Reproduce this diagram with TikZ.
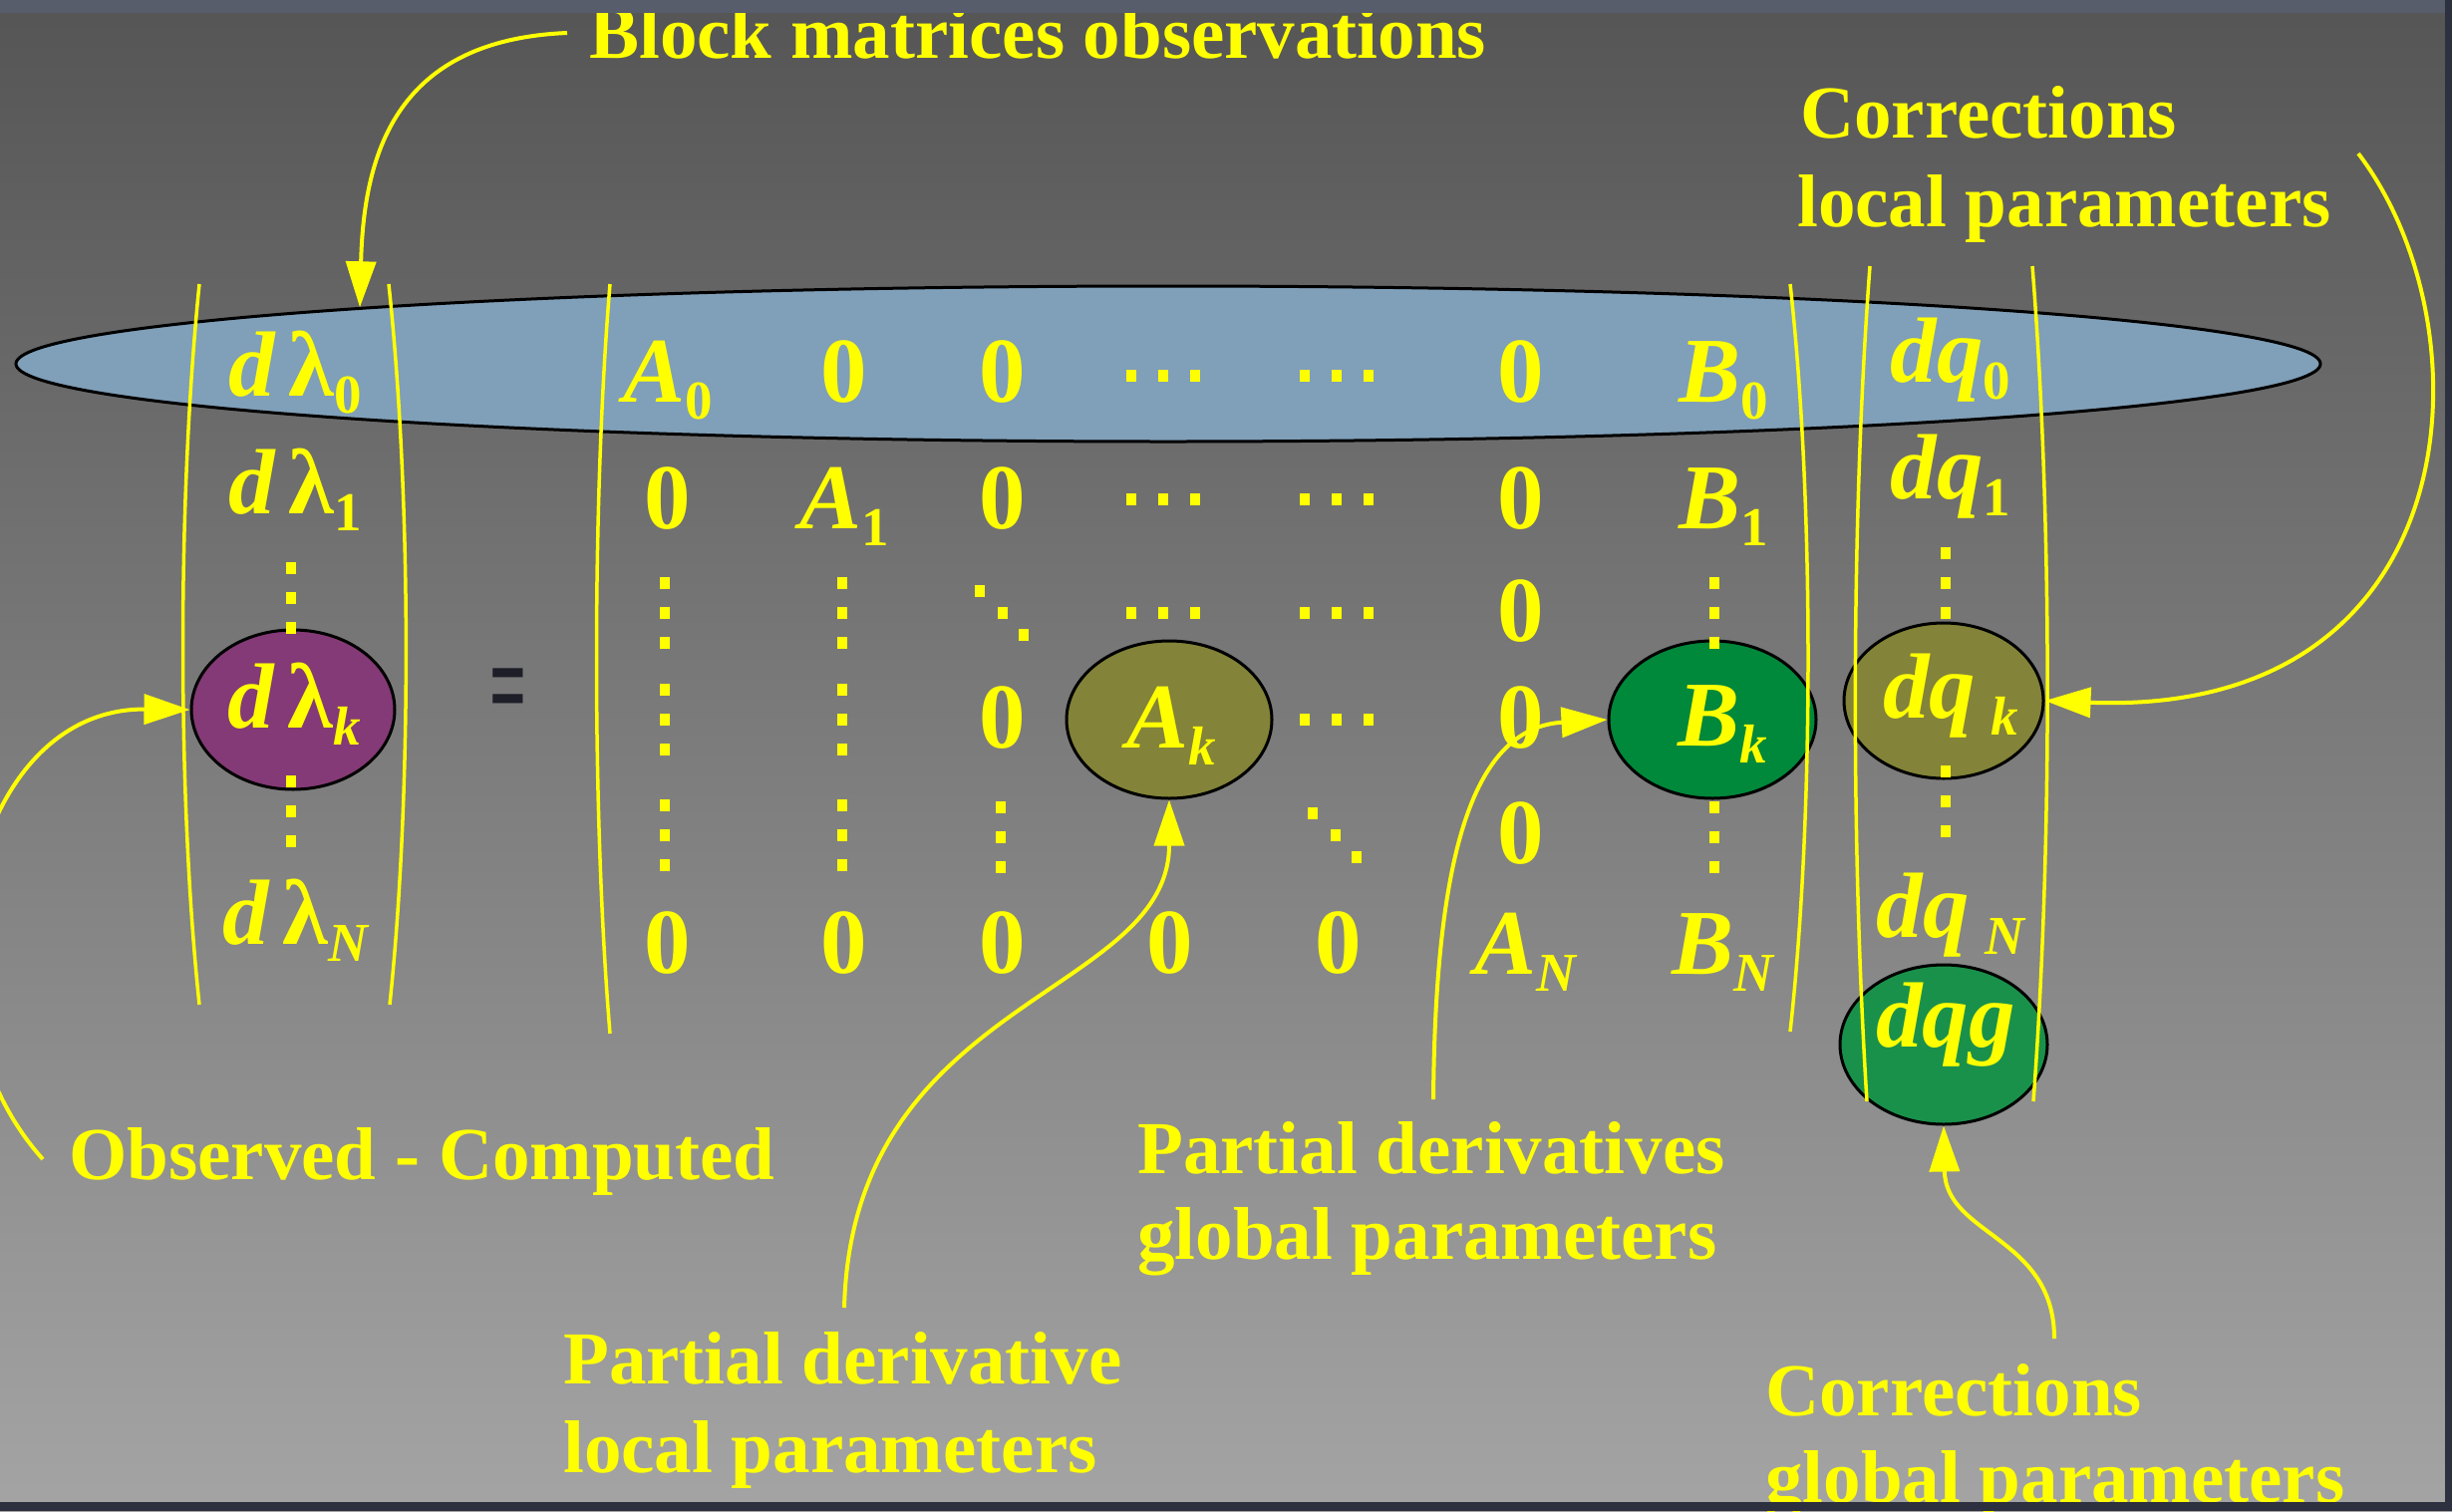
\documentclass[tikz,border=0pt]{standalone}
\usepackage{fontspec}
\setmainfont{Liberation Serif}
\usetikzlibrary{arrows.meta,shapes.geometric}
\definecolor{ylw}{RGB}{255,255,0}
\definecolor{ellblue}{RGB}{128,159,184}
\definecolor{purp}{RGB}{132,58,118}
\definecolor{olive}{RGB}{131,131,57}
\definecolor{grnA}{RGB}{0,136,59}
\definecolor{grnB}{RGB}{26,145,75}
\definecolor{bgtop}{RGB}{85,85,85}
\definecolor{bgbot}{RGB}{164,164,164}
\definecolor{stripA}{RGB}{88,93,108}
\definecolor{stripB}{RGB}{45,48,62}
\definecolor{eqcol}{RGB}{30,30,40}
\newcommand\mi[1]{{\itshape #1}}
\newcommand\sbs[1]{\raisebox{-17pt}{\fontsize{55}{55}\selectfont #1}}
\newcommand\vdts[2]{\foreach \dd in {-30,0,30} \fill[ylw] ({#1-5},{#2+\dd-6}) rectangle +(10,12);}
\newcommand\hdts[2]{\foreach \dd in {-32,0,32} \fill[ylw] ({#1+\dd-5},{#2-6}) rectangle +(10,12);}
\newcommand\ddts[2]{\foreach \ddx/\ddy in {-23/-22,0/0,21/22} \fill[ylw] ({#1+\ddx-5},{#2+\ddy-6}) rectangle +(10,12);}
\tikzset{
  lbl/.style={text=ylw, font=\bfseries\fontsize{75}{88}\selectfont, inner sep=0pt, anchor=base west},
  ent/.style={text=ylw, font=\bfseries\fontsize{93}{93}\selectfont, inner sep=0pt, anchor=base},
  paren/.style={draw=ylw, line width=3.5pt},
  arr/.style={draw=ylw, line width=4pt, -{Triangle[length=46pt,width=30pt]}},
  blob/.style={ellipse, draw=black, line width=3pt, inner sep=0pt},
}
\begin{document}
\begin{tikzpicture}[x=1pt,y=-1pt]
\useasboundingbox (0,0) rectangle (2460,1516);
\clip (0,0) rectangle (2460,1516);
% background
\shade[top color=bgtop, bottom color=bgbot] (0,0) rectangle (2460,1516);
% ellipses
\node[blob, fill=ellblue, minimum width=2312pt, minimum height=156pt] (big) at (1172,365) {};
\node[blob, fill=purp, minimum width=204pt, minimum height=160pt] (elk) at (294,712) {};
\node[blob, fill=olive, minimum width=206pt, minimum height=158pt] (eAk) at (1173,722) {};
\node[blob, fill=grnA, minimum width=208pt, minimum height=158pt] (eBk) at (1718,722) {};
\node[blob, fill=olive, minimum width=200pt, minimum height=156pt] (eqk) at (1950,703) {};
\node[blob, fill=grnB, minimum width=208pt, minimum height=160pt] (eqg) at (1950,1048) {};
% parentheses
\draw[paren] (200,285) .. controls (178,500) and (178,800) .. (200,1008);
\draw[paren] (390,285) .. controls (413,500) and (413,800) .. (391,1008);
\draw[paren] (612,285) .. controls (594,500) and (594,820) .. (612,1037);
\draw[paren] (1796,285) .. controls (1820,500) and (1820,820) .. (1796,1035);
\draw[paren] (1876,267) .. controls (1857,520) and (1857,850) .. (1873,1105);
\draw[paren] (2039,267) .. controls (2059,520) and (2059,850) .. (2040,1105);
% left vector
\node[ent] (l0) at (296,397) {\mi{d}\hspace{14pt}λ\sbs{0}};
\node[ent] (l1) at (296,515) {\mi{d}\hspace{14pt}λ\sbs{1}};
\node[ent] (lk) at (295,730) {\mi{d}\hspace{14pt}λ\sbs{\mi{k}}};
\node[ent] (lN) at (296,947) {\mi{d}\hspace{14pt}λ\sbs{\mi{N}}};
\vdts{292}{600}
\vdts{292}{814}
% equals
\node[text=eqcol, inner sep=0pt] (eq) at (510,701) {\scalebox{0.5}[1]{\bfseries\fontsize{130}{130}\selectfont =}};
% matrix
\node[ent] (a00) at (670,403) {\mi{A}\sbs{0}};
\node[ent] (a01) at (847,403) {0};
\node[ent] (a02) at (1006,403) {0};
\node[ent] (a05) at (1526,403) {0};
\node[ent] (a06) at (1729,403) {\mi{B}\sbs{0}};
\node[ent] (a10) at (670,530) {0};
\node[ent] (a11) at (847,530) {\mi{A}\sbs{1}};
\node[ent] (a12) at (1006,530) {0};
\node[ent] (a15) at (1526,530) {0};
\node[ent] (a16) at (1729,530) {\mi{B}\sbs{1}};
\node[ent] (a25) at (1526,643) {0};
\node[ent] (a32) at (1006,750) {0};
\node[ent] (a33) at (1175,750) {\mi{A}\sbs{\mi{k}}};
\node[ent] (a35) at (1526,750) {0};
\node[ent] (a36) at (1728,748) {\mi{B}\sbs{\mi{k}}};
\node[ent] (a45) at (1526,866) {0};
\node[ent] (a50) at (670,976) {0};
\node[ent] (a51) at (847,976) {0};
\node[ent] (a52) at (1006,976) {0};
\node[ent] (a53) at (1174,976) {0};
\node[ent] (a54) at (1343,976) {0};
\node[ent] (a55) at (1530,977) {\mi{A}\sbs{\mi{N}}};
\node[ent] (a56) at (1728,977) {\mi{B}\sbs{\mi{N}}};
\hdts{1167}{377} \hdts{1341}{377}
\hdts{1167}{501} \hdts{1341}{501}
\vdts{667}{615} \vdts{845}{615} \ddts{1006}{615} \hdts{1167}{615} \hdts{1341}{615} \vdts{1720}{615}
\vdts{667}{722} \vdts{845}{722} \hdts{1341}{722}
\vdts{667}{838} \vdts{845}{838} \vdts{1004}{840} \ddts{1340}{838} \vdts{1720}{840}
% dq vector
\node[ent] (q0) at (1957,383) {\mi{dq}\sbs{0}};
\node[ent] (q1) at (1957,500) {\mi{dq}\sbs{1}};
\node[ent] (qk) at (1957,720) {\mi{dq}\,\sbs{\mi{k}}};
\node[ent] (qN) at (1957,940) {\mi{dq}\,\sbs{\mi{N}}};
\node[ent] (qg) at (1952,1050) {\mi{dqg}};
\vdts{1952}{585}
\vdts{1952}{804}
% labels
\node[lbl] (tTitle) at (591,58) {Block matrices observations};
\node[lbl] (tCL1) at (1806,138) {Corrections};
\node[lbl] (tCL2) at (1803,227) {local parameters};
\node[lbl] (tOC) at (69,1183) {Observed - Computed};
\node[lbl] (tPL1) at (565,1388) {Partial derivative};
\node[lbl] (tPL2) at (565,1477) {local parameters};
\node[lbl] (tPG1) at (1141,1177) {Partial derivatives};
\node[lbl] (tPG2) at (1141,1263) {global parameters};
\node[lbl] (tCG1) at (1771,1420) {Corrections};
\node[lbl] (tCG2) at (1771,1507) {global parameters};
% arrows
\coordinate (sT) at (569,33);
\coordinate (sCL) at (2366,154);
\coordinate (sOC) at (43,1163);
\coordinate (sPL) at (847,1312);
\coordinate (sPG) at (1438,1103);
\coordinate (sCG) at (2061,1343);
\draw[arr] (sT) .. controls (400,40) and (365,150) .. (big.176);
\draw[arr] (sCL) .. controls (2500,330) and (2480,720) .. (eqk.east);
\draw[arr] (sOC) .. controls (-95,1010) and (-30,710) .. (elk.west);
\draw[arr] (sPL) .. controls (855,1000) and (1173,1000) .. (eAk.south);
\draw[arr] (sPG) .. controls (1440,850) and (1480,730) .. (eBk.west);
\draw[arr] (sCG) .. controls (2061,1240) and (1952,1240) .. (eqg.south);
% frame strips
\fill[stripA] (0,0) rectangle (2460,13);
\fill[stripB] (0,1507) rectangle (2460,1516);
\fill[stripB] (2453,0) rectangle (2460,1516);
\end{tikzpicture}
\end{document}
